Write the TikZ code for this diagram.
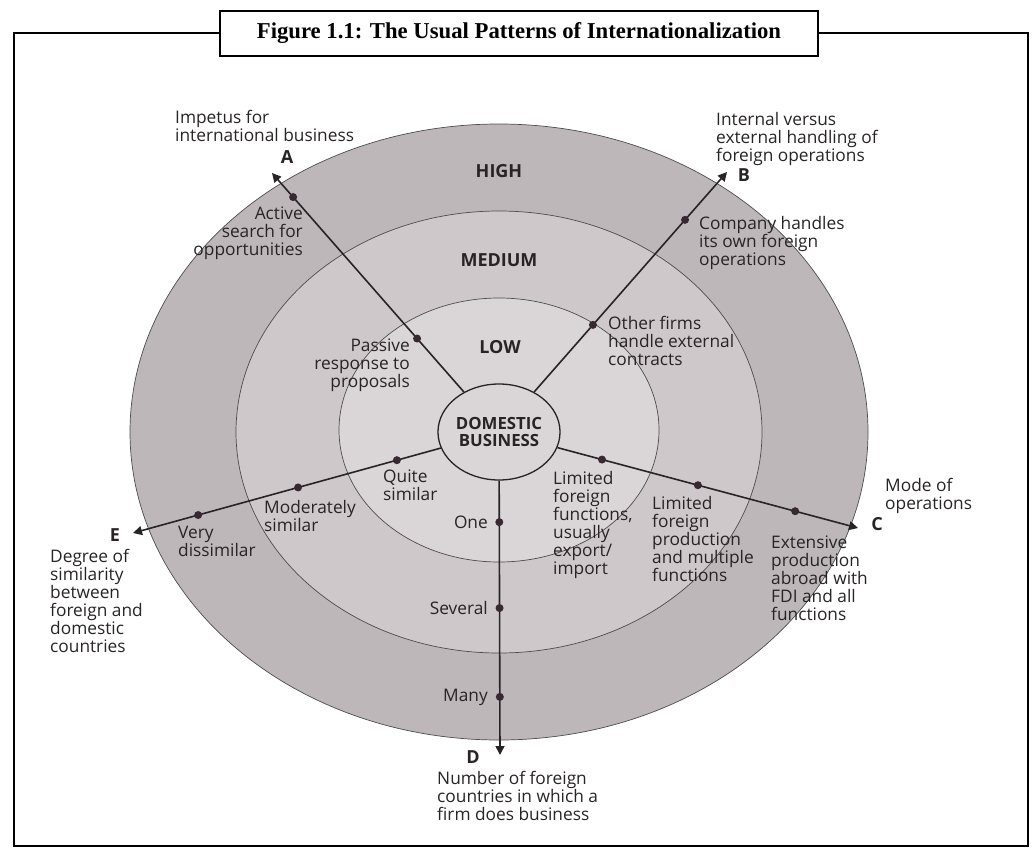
\documentclass[tikz,border=0pt]{standalone}
\usepackage{fontspec}
\setmainfont{Liberation Serif}
\setsansfont{Open Sans}
\usetikzlibrary{shapes.geometric,arrows.meta,calc}

\definecolor{ringhigh}{RGB}{189,183,186}
\definecolor{ringmed}{RGB}{206,200,203}
\definecolor{ringlow}{RGB}{218,213,215}
\definecolor{inkdot}{RGB}{55,40,50}
\definecolor{ink}{RGB}{40,36,38}

\tikzset{
  lbl/.style={font=\sffamily\fontsize{17.3}{18}\selectfont, inner sep=0pt, text=ink},
  lvl/.style={font=\sffamily\bfseries\fontsize{18}{16}\selectfont, inner sep=0pt, text=ink},
  ray/.style={line width=1.6pt, draw=ink, -{Triangle[length=9pt,width=9pt]}},
  dot/.style={circle, fill=inkdot, inner sep=0pt, minimum size=8pt},
  ring/.style={draw=black!70, line width=0.7pt},
}

\begin{document}
\begin{tikzpicture}[x=1pt, y=-1pt]
\useasboundingbox (0,0) rectangle (1032,848);
\draw[line width=2.5pt] (14,33) rectangle (1028,846); % outer frame
\node[draw, line width=2.5pt, fill=white, minimum width=598pt, minimum height=45pt,
  font=\bfseries\fontsize{22.7}{22}\selectfont] (title) at (519,33.5)
  {Figure 1.1: The Usual Patterns of Internationalization};

% the three levels
\path[ring, fill=ringhigh] (499,432) ellipse [x radius=369pt, y radius=308pt];
\path[ring, fill=ringmed] (499,432) ellipse [x radius=263pt, y radius=221pt];
\path[ring, fill=ringlow] (499,430) ellipse [x radius=160pt, y radius=132pt];
\node[lvl] (high) at (499,171) {HIGH};
\node[lvl] (medium) at (499,260) {MEDIUM};
\node[lvl] (low) at (500,347) {LOW};

\node[ellipse, draw=ink, line width=1.3pt, fill=ringlow, minimum width=114pt, minimum height=96pt,
  lvl, font=\sffamily\bfseries\fontsize{16.8}{17.5}\selectfont, align=center] (dom) at (499,432) {DOMESTIC\\BUSINESS};

% arrow ends
\coordinate (tipA) at (272,173);
\coordinate (tipB) at (727,172);
\coordinate (tipC) at (858,528);
\coordinate (tipD) at (500,755);
\coordinate (tipE) at (133,533);
\foreach \t in {A,B,C,D,E}
  \draw[ray] (dom) -- (tip\t);

% stages on each ray
\node[dot] (passive) at ($(dom.center)!0.361!(tipA)$) {};
\node[dot] (active) at ($(dom.center)!0.907!(tipA)$) {};
\node[dot] (other) at ($(dom.center)!0.412!(tipB)$) {};
\node[dot] (own) at ($(dom.center)!0.816!(tipB)$) {};
\node[dot] (limfun) at ($(dom.center)!0.287!(tipC)$) {};
\node[dot] (limprod) at ($(dom.center)!0.554!(tipC)$) {};
\node[dot] (extens) at ($(dom.center)!0.825!(tipC)$) {};
\node[dot] (one) at ($(dom.center)!0.279!(tipD)$) {};
\node[dot] (several) at ($(dom.center)!0.545!(tipD)$) {};
\node[dot] (many) at ($(dom.center)!0.820!(tipD)$) {};
\node[dot] (quite) at ($(dom.center)!0.279!(tipE)$) {};
\node[dot] (moder) at ($(dom.center)!0.549!(tipE)$) {};
\node[dot] (verydis) at ($(dom.center)!0.822!(tipE)$) {};

% axis letters and captions
\node[lvl] (lblA) at (287,157) {A};
\node[lvl] (lblB) at (744,175) {B};
\node[lvl] (lblC) at (877,524) {C};
\node[lvl] (lblD) at (473,757) {D};
\node[lvl] (lblE) at (115,535) {E};
\node[lbl, anchor=north west, align=left] (impetus) at (175,110) {Impetus for\\international business};
\node[lbl, anchor=north west, align=left] (internal) at (716,112) {Internal versus\\external handling of\\foreign operations};
\node[lbl, anchor=north west, align=left] (mode) at (885,478) {Mode of\\operations};
\node[lbl, anchor=north west, align=left] (number) at (437,771) {Number of foreign\\countries in which a\\firm does business};
\node[lbl, anchor=north west, align=left] (degree) at (50,549) {Degree of\\similarity\\between\\foreign and\\domestic\\countries};

% stage texts
\node[lbl, anchor=north east, align=right] at (303,207) {Active\\search for\\opportunities};
\node[lbl, anchor=north east, align=right] at (410,339) {Passive\\response to\\proposals};
\node[lbl, anchor=north west, align=left] at (699,216) {Company handles\\its own foreign\\operations};
\node[lbl, anchor=north west, align=left] at (608,316) {Other firms\\handle external\\contracts};
\node[lbl, anchor=north west, align=left] at (553,471) {Limited\\foreign\\functions,\\usually\\export/\\import};
\node[lbl, anchor=north west, align=left] at (652,496) {Limited\\foreign\\production\\and multiple\\functions};
\node[lbl, anchor=north west, align=left] at (771,536) {Extensive\\production\\abroad with\\FDI and all\\functions};
\node[lbl, anchor=east] at (488,522) {One};
\node[lbl, anchor=east] at (488,608) {Several};
\node[lbl, anchor=east] at (488,697) {Many};
\node[lbl, anchor=north west, align=left] at (383,470) {Quite\\similar};
\node[lbl, anchor=north west, align=left] at (264,500) {Moderately\\similar};
\node[lbl, anchor=north west, align=left] at (178,526) {Very\\dissimilar};
\end{tikzpicture}
\end{document}
